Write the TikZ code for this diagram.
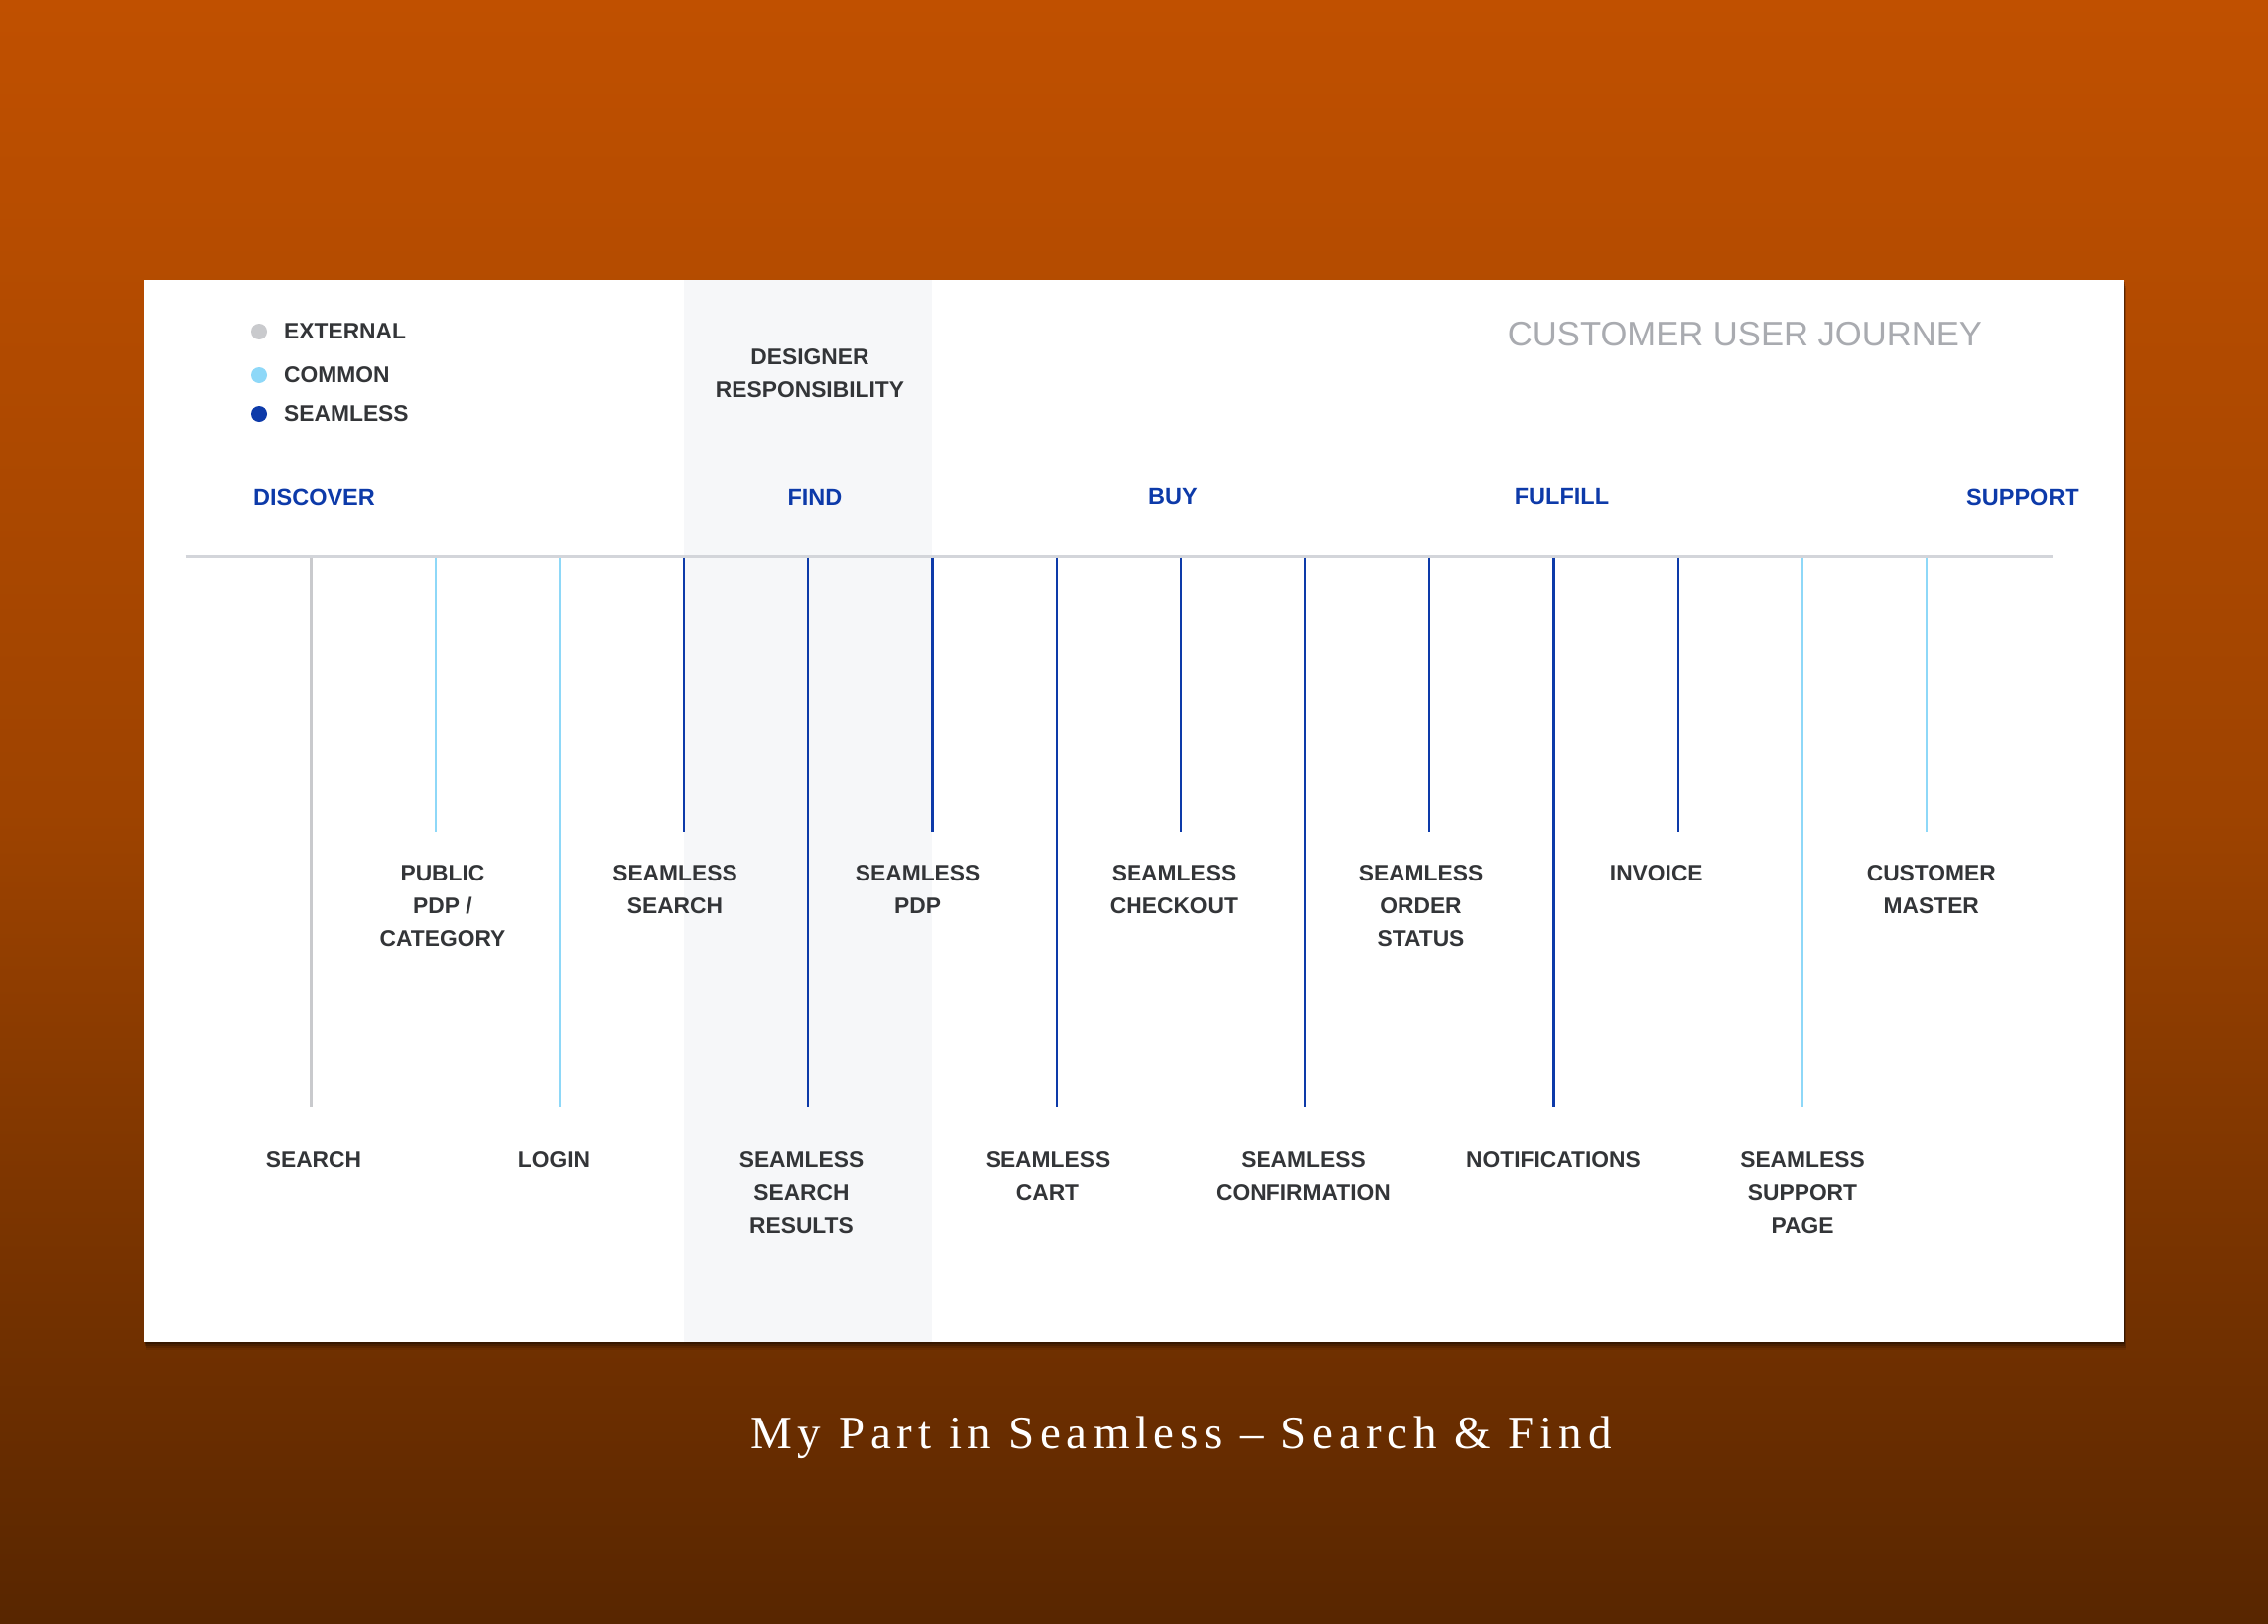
\documentclass[tikz,border=0pt]{standalone}
\usepackage{fontspec}
\setmainfont{Liberation Sans}
\newfontfamily\capfont[LetterSpace=12.5]{Liberation Serif}
\definecolor{bgtop}{RGB}{192,80,0}
\definecolor{bgmid}{RGB}{158,67,0}
\definecolor{bgbot}{RGB}{88,38,0}
\definecolor{seam}{HTML}{0D3AA9}
\definecolor{common}{HTML}{8ED8F8}
\definecolor{extern}{HTML}{C9CACD}
\definecolor{axisc}{HTML}{D3D5DA}
\definecolor{band}{HTML}{F6F7F9}
\definecolor{txt}{HTML}{333538}
\definecolor{title}{HTML}{A9ABB0}
\tikzset{
  lbl/.style={font=\bfseries\fontsize{22.8}{33}\selectfont, text=txt, align=center, inner sep=0pt, anchor=north},
  phase/.style={font=\bfseries\fontsize{23.5}{33}\selectfont, text=seam, inner sep=0pt},
  legtxt/.style={font=\bfseries\fontsize{22.8}{33}\selectfont, text=txt, inner sep=0pt, anchor=west},
  stem/.style={line width=2.2pt},
}
\begin{document}
\begin{tikzpicture}[x=1pt,y=-1pt]
\useasboundingbox (0,0) rectangle (2285,1635);
% background
\shade[top color=bgtop, bottom color=bgbot, middle color=bgmid] (0,0) rectangle (2285,1635);
% shadow
\foreach \d/\o in {8/0.08,6/0.12,4/0.18,2/0.25}{
  \fill[black,opacity=\o] (145+\d*0.3,282+\d) rectangle (2140+\d*0.3,1352+\d);
}
% card
\fill[white] (145,282) rectangle (2140,1352);
\fill[band] (688.5,282) rectangle (939,1352);
% axis
\coordinate (axL) at (186.5,560);
\coordinate (axR) at (2068,560);
\draw[axisc, line width=3pt] (axL) -- (axR);
% stems
\foreach \i/\c/\e in {0/extern/1115,1/common/838,2/common/1115,3/seam/838,4/seam/1115,5/seam/838,6/seam/1115,7/seam/838,8/seam/1115,9/seam/838,10/seam/1115,11/seam/838,12/common/1115,13/common/838}{
  \coordinate (s\i) at (313.5+125.2*\i,561.5);
  \coordinate (e\i) at (313.5+125.2*\i,\e);
  \draw[stem,\c] (s\i) -- (e\i);
}
% legend
\fill[extern] (261,334) circle (8);
\fill[common] (261,378) circle (8);
\fill[seam] (261,417) circle (8);
\node[legtxt] (lext) at (286,334) {EXTERNAL};
\node[legtxt] (lcom) at (286,378) {COMMON};
\node[legtxt] (lsea) at (286,417) {SEAMLESS};
% header texts
\node[lbl] (desres) at (816,351.7) {DESIGNER\\RESPONSIBILITY};
\node[font=\fontsize{34.6}{40}\selectfont, text=title, inner sep=0pt] (cuj) at (1758,336.7) {CUSTOMER USER JOURNEY};
% phases
\node[phase] (pdis) at (316.5,501) {DISCOVER};
\node[phase] (pfin) at (821,501) {FIND};
\node[phase] (pbuy) at (1182,501) {BUY};
\node[phase] (pful) at (1573.5,501) {FULFILL};
\node[phase] (psup) at (2038,501) {SUPPORT};
% short labels
\node[lbl] (t1) at (446,871.7) {PUBLIC\\PDP /\\CATEGORY};
\node[lbl] (t3) at (680,871.7) {SEAMLESS\\SEARCH};
\node[lbl] (t5) at (924.6,871.7) {SEAMLESS\\PDP};
\node[lbl] (t7) at (1182.5,871.7) {SEAMLESS\\CHECKOUT};
\node[lbl] (t9) at (1431.5,871.7) {SEAMLESS\\ORDER\\STATUS};
\node[lbl] (t11) at (1668.8,871.7) {INVOICE};
\node[lbl] (t13) at (1945.8,871.7) {CUSTOMER\\MASTER};
% long labels
\node[lbl] (b0) at (316,1160.7) {SEARCH};
\node[lbl] (b2) at (558,1160.7) {LOGIN};
\node[lbl] (b4) at (807.5,1160.7) {SEAMLESS\\SEARCH\\RESULTS};
\node[lbl] (b6) at (1055.5,1160.7) {SEAMLESS\\CART};
\node[lbl] (b8) at (1313,1160.7) {SEAMLESS\\CONFIRMATION};
\node[lbl] (b10) at (1565,1160.7) {NOTIFICATIONS};
\node[lbl] (b12) at (1816,1160.7) {SEAMLESS\\SUPPORT\\PAGE};
% caption
\node[font=\capfont\fontsize{47}{56}\selectfont, text=white, inner sep=0pt, anchor=base] (cap) at (1190,1459) {My Part in Seamless – Search \& Find};
\end{tikzpicture}
\end{document}
